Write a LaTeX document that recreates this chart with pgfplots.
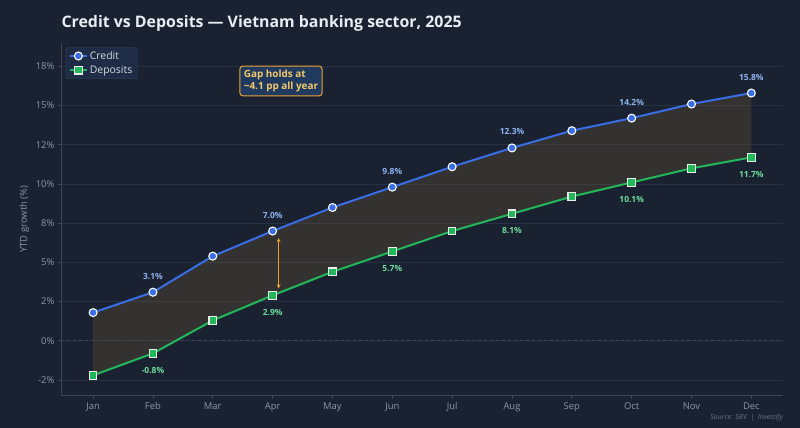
\documentclass[border=0pt]{standalone}
\usepackage{pgfplots}
\pgfplotsset{compat=1.18}
\usepgfplotslibrary{fillbetween}
\usetikzlibrary{arrows.meta}
\usepackage{fontspec}
\setmainfont{Open Sans}
\definecolor{bg}{HTML}{1A2232}
\definecolor{gridc}{HTML}{263145}
\definecolor{spine}{HTML}{3A4659}
\definecolor{tickc}{HTML}{8A96A8}
\definecolor{titlec}{HTML}{E8EDF3}
\definecolor{creditc}{HTML}{3A6EE6}
\definecolor{creditlab}{HTML}{8DB3F0}
\definecolor{depc}{HTML}{22B85A}
\definecolor{deplab}{HTML}{6EDC9A}
\definecolor{orangec}{HTML}{F0A030}
\definecolor{annbg}{HTML}{1F3A5E}
\definecolor{anntext}{HTML}{F5C86B}
\definecolor{legbg}{HTML}{1E2D45}
\definecolor{legedge}{HTML}{34445C}
\definecolor{legtext}{HTML}{D3DAE4}
\definecolor{srccol}{HTML}{667489}
\begin{document}
\pagecolor{bg}
\begin{tikzpicture}
\path (0bp,0bp) rectangle (800bp,429bp);
\node[anchor=base west, font=\fontsize{16}{18}\selectfont\bfseries, text=titlec, inner sep=0] at (59bp,401bp) {Credit vs Deposits — Vietnam banking sector, 2025};
\node[anchor=base east, font=\fontsize{7}{8}\selectfont\itshape, text=srccol, inner sep=0] at (783bp,8bp) {Source: SBV ~|~ Investify};
\begin{axis}[
  at={(59bp,32bp)}, anchor=south west, scale only axis,
  width=724bp, height=354bp,
  xmin=-0.53, xmax=11.53, ymin=-3.5, ymax=19,
  axis x line*=bottom, axis y line*=left,
  axis line style={spine, line width=0.8bp},
  xtick={0,...,11},
  xticklabels={Jan,Feb,Mar,Apr,May,Jun,Jul,Aug,Sep,Oct,Nov,Dec},
  ytick={-2.5,0,2.5,5,7.5,10,12.5,15,17.5},
  yticklabels={-2\%,0\%,2\%,5\%,8\%,10\%,12\%,15\%,18\%},
  tick align=outside, major tick length=3.5bp,
  tick style={spine, line width=0.8bp},
  ticklabel style={font=\fontsize{9.5}{11}\selectfont, text=tickc},
  ymajorgrids, grid style={gridc, line width=0.7bp},
  ylabel={YTD growth (\%)},
  ylabel style={font=\fontsize{9.5}{11}\selectfont, text=tickc},
  legend style={at={(0.006,0.988)}, anchor=north west, fill=legbg, draw=legedge,
    text=legtext, font=\fontsize{10.5}{12}\selectfont, rounded corners=2bp,
    inner xsep=3bp, inner ysep=2bp, row sep=1bp},
  legend cell align=left,
]
\draw[dashed, spine, line width=0.8bp] (axis cs:-0.53,0) -- (axis cs:11.53,0);
\addplot[forget plot, name path=credit, draw=none]
  coordinates {(0,1.8) (1,3.1) (2,5.4) (3,7.0) (4,8.5) (5,9.8) (6,11.1) (7,12.3) (8,13.4) (9,14.2) (10,15.1) (11,15.8)};
\addplot[forget plot, name path=dep, draw=none]
  coordinates {(0,-2.2) (1,-0.8) (2,1.3) (3,2.9) (4,4.4) (5,5.7) (6,7.0) (7,8.1) (8,9.2) (9,10.1) (10,11.0) (11,11.7)};
\addplot[forget plot, fill=orangec, fill opacity=0.12, draw=none] fill between[of=credit and dep];
\addplot[color=creditc, line width=2bp, mark=*, mark size=4bp,
  mark options={fill=creditc, draw=white, line width=1.1bp}]
  coordinates {(0,1.8) (1,3.1) (2,5.4) (3,7.0) (4,8.5) (5,9.8) (6,11.1) (7,12.3) (8,13.4) (9,14.2) (10,15.1) (11,15.8)};
\addlegendentry{Credit}
\addplot[color=depc, line width=2bp, mark=square*, mark size=3.8bp,
  mark options={fill=depc, draw=white!85!gray, line width=1.1bp}]
  coordinates {(0,-2.2) (1,-0.8) (2,1.3) (3,2.9) (4,4.4) (5,5.7) (6,7.0) (7,8.1) (8,9.2) (9,10.1) (10,11.0) (11,11.7)};
\addlegendentry{Deposits}
% data labels
\foreach \x/\v/\t in {1/3.1/3.1, 3/7.0/7.0, 5/9.8/9.8, 7/12.3/12.3, 9/14.2/14.2, 11/15.8/15.8} {
  \edef\tmp{\noexpand\node[font=\noexpand\fontsize{8.5}{10}\noexpand\selectfont\noexpand\bfseries, text=creditlab, yshift=16bp] at (axis cs:\x,\v) {\t\noexpand\%};}
  \tmp
}
\foreach \x/\v/\t in {1/-0.8/-0.8, 3/2.9/2.9, 5/5.7/5.7, 7/8.1/8.1, 9/10.1/10.1, 11/11.7/11.7} {
  \edef\tmp{\noexpand\node[font=\noexpand\fontsize{8.5}{10}\noexpand\selectfont\noexpand\bfseries, text=deplab, yshift=-17bp] at (axis cs:\x,\v) {\t\noexpand\%};}
  \tmp
}
\draw[{Stealth[length=4bp,width=4bp]}-{Stealth[length=4bp,width=4bp]}, orangec, line width=1.2bp] (axis cs:3.1,3.35) -- (axis cs:3.1,6.55);
\node[draw=orangec, fill=annbg, rounded corners=3bp, line width=1bp, text=anntext,
  font=\fontsize{10}{12}\selectfont\bfseries, align=left, inner sep=4bp]
  at (axis cs:3.14,16.57) {Gap holds at\\\textasciitilde4.1 pp all year};
\end{axis}
\end{tikzpicture}
\end{document}
